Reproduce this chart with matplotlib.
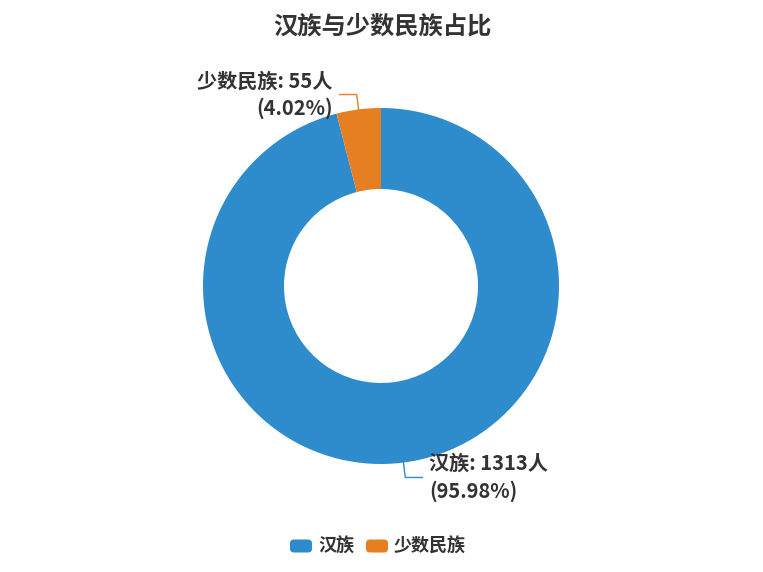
import numpy as np
import matplotlib
matplotlib.use("Agg")
import matplotlib.pyplot as plt
from matplotlib.patches import FancyBboxPatch

plt.rcParams['font.family'] = ['Noto Sans CJK SC', 'DejaVu Sans']

# data
groups = ['汉族', '少数民族']
counts = [1313, 55]
colors = ['#2e8bcc', '#e67e22']
title = '汉族与少数民族占比'

W, H = 763, 572
fig = plt.figure(figsize=(W / 100, H / 100), dpi=100)
ax = fig.add_axes([0, 0, 1, 1])
ax.set_xlim(0, W)
ax.set_ylim(0, H)
ax.set_aspect('equal')
ax.axis('off')

cx, cy = 381, H - 286
r_out, r_in = 178, 97

wedges, _ = ax.pie(counts, colors=colors, startangle=90, counterclock=False,
                   center=(cx, cy), radius=r_out,
                   wedgeprops=dict(width=r_out - r_in, linewidth=0))
ax.set_xlim(0, W)
ax.set_ylim(0, H)

total = sum(counts)
txt_col = '#333333'
for w, g, c, col in zip(wedges, groups, counts, colors):
    mid = np.deg2rad((w.theta1 + w.theta2) / 2)
    x0 = cx + r_out * np.cos(mid)
    y0 = cy + r_out * np.sin(mid)
    x1 = cx + (r_out + 15) * np.cos(mid)
    y1 = cy + (r_out + 15) * np.sin(mid)
    side = 1 if np.cos(mid) >= 0 else -1
    x2 = x1 + side * 17
    ax.plot([x0, x1, x2], [y0, y1, y1], color=col, lw=1)
    label = f'{g}: {c}人\n({c / total * 100:.2f}%)'
    ax.text(x2 + side * 7, y1, label,
            ha='left' if side > 0 else 'right', va='center',
            multialignment='left' if side > 0 else 'right',
            fontsize=14.5, fontweight='bold', color=txt_col,
            linespacing=1.35)

ax.text(W / 2 + 1, H - 27, title, ha='center', va='center',
        fontsize=17.5, fontweight='heavy', color=txt_col)

# legend
lx = 290
ly = H - 546
for g, col in zip(groups, colors):
    box = FancyBboxPatch((lx, ly - 6.5), 22, 13,
                         boxstyle='round,pad=0,rounding_size=4',
                         fc=col, ec='none')
    ax.add_patch(box)
    t = ax.text(lx + 28, ly, g, ha='left', va='center', fontsize=13,
                fontweight='bold', color=txt_col)
    fig.canvas.draw()
    bb = t.get_window_extent().transformed(ax.transData.inverted())
    lx = bb.x1 + 12

fig.savefig('out.png', dpi=100)
